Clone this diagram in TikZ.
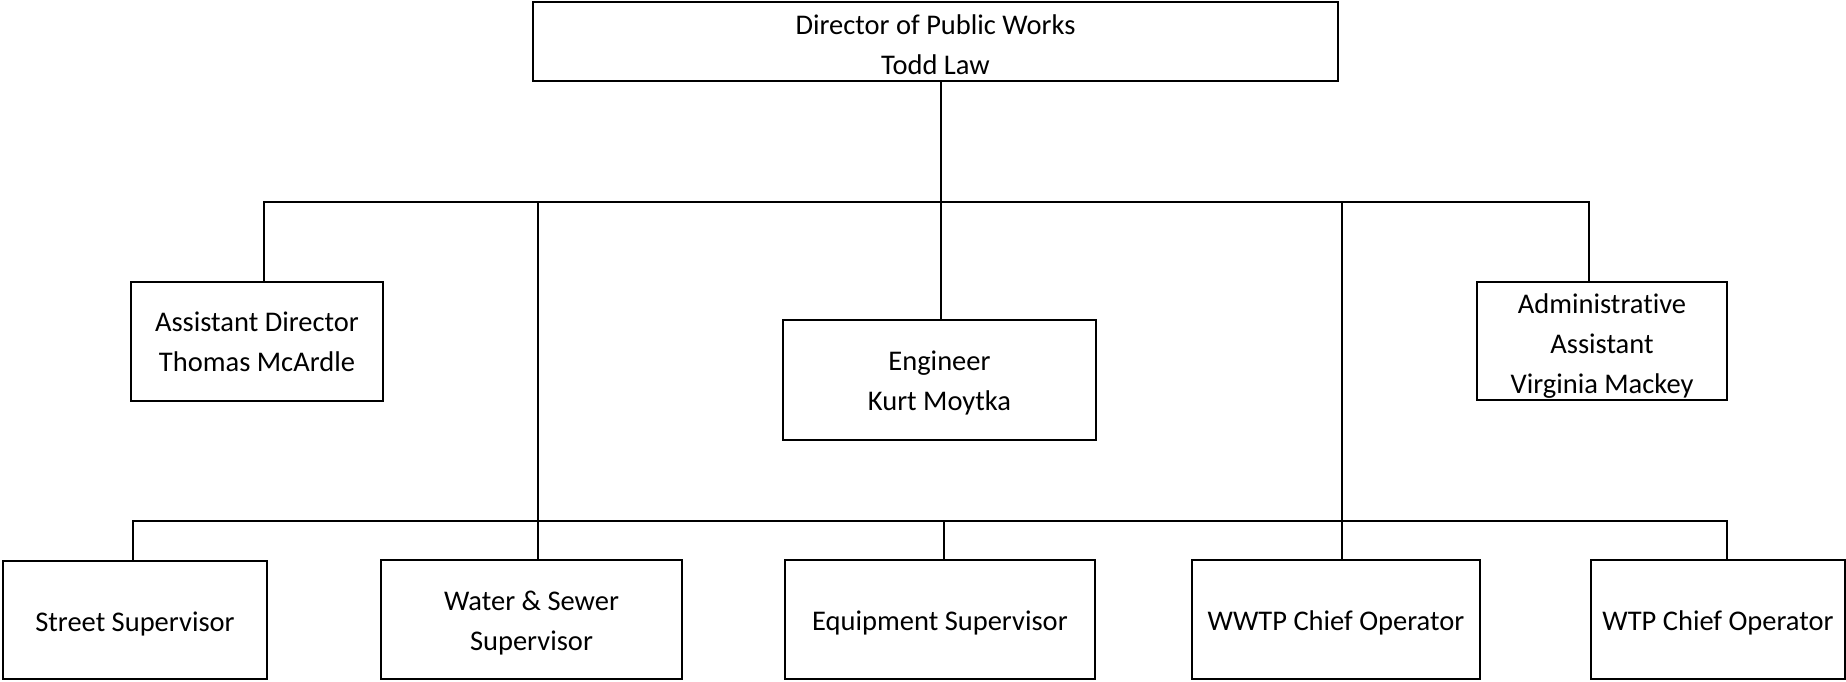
\documentclass[tikz,border=0pt]{standalone}
\usepackage{fontspec}
\setmainfont{Carlito}[Ligatures={NoCommon,NoContextual},RawFeature={-liga;-dlig;-calt}]
\newcommand{\liftline}[1]{\rule{0pt}{#1}}
\begin{document}
\begin{tikzpicture}[x=1pt,y=-1pt,
  orgbox/.style={draw=black, line width=2.7pt, fill=white, inner sep=0pt, align=center,
    font=\fontsize{28.5}{40}\selectfont, execute at begin node={\rule{0pt}{27pt}}},
  link/.style={draw=black, line width=2.7pt}]
\useasboundingbox (0,0) rectangle (1846,681);
% nodes
\node[orgbox, minimum width=805pt, minimum height=79pt] (top) at (935.5,41.5) {\liftline{26.5pt}Director of Public Works\\Todd Law};
\node[orgbox, minimum width=252pt, minimum height=119pt] (asst) at (257,341.5) {Assistant Director\\Thomas McArdle};
\node[orgbox, minimum width=313pt, minimum height=120pt] (eng) at (939.5,380) {\liftline{26.5pt}Engineer\\Kurt Moytka};
\node[orgbox, minimum width=250pt, minimum height=118pt] (adm) at (1602,341) {\liftline{29.5pt}Administrative\\Assistant\\Virginia Mackey};
\node[orgbox, minimum width=264pt, minimum height=118pt] (street) at (135,620) {Street Supervisor};
\node[orgbox, minimum width=301pt, minimum height=119pt] (water) at (531.5,619.5) {\liftline{27.5pt}Water \& Sewer\\Supervisor};
\node[orgbox, minimum width=310pt, minimum height=119pt] (equip) at (940,619.5) {Equipment Supervisor};
\node[orgbox, minimum width=288pt, minimum height=119pt] (wwtp) at (1336,619.5) {WWTP Chief Operator};
\node[orgbox, minimum width=254pt, minimum height=119pt] (wtp) at (1718,619.5) {WTP Chief Operator};
% bus coordinates
\coordinate (tc) at (941,0);
\coordinate (ua) at (264,202);
\coordinate (ud) at (1589,202);
\coordinate (ws) at (538,202);
\coordinate (ww) at (1342,202);
\coordinate (la) at (133,521);
\coordinate (lz) at (1727,521);
\coordinate (le) at (944,521);
% connectors
\draw[link] (top.south -| tc) -- (eng.north -| tc);
\draw[link] (asst.north -| ua) -- (ua) -- (ud) -- (adm.north -| ud);
\draw[link] (ws) -- (water.north -| ws);
\draw[link] (ww) -- (wwtp.north -| ww);
\draw[link] (street.north -| la) -- (la) -- (lz) -- (wtp.north -| lz);
\draw[link] (le) -- (equip.north -| le);
\end{tikzpicture}
\end{document}
